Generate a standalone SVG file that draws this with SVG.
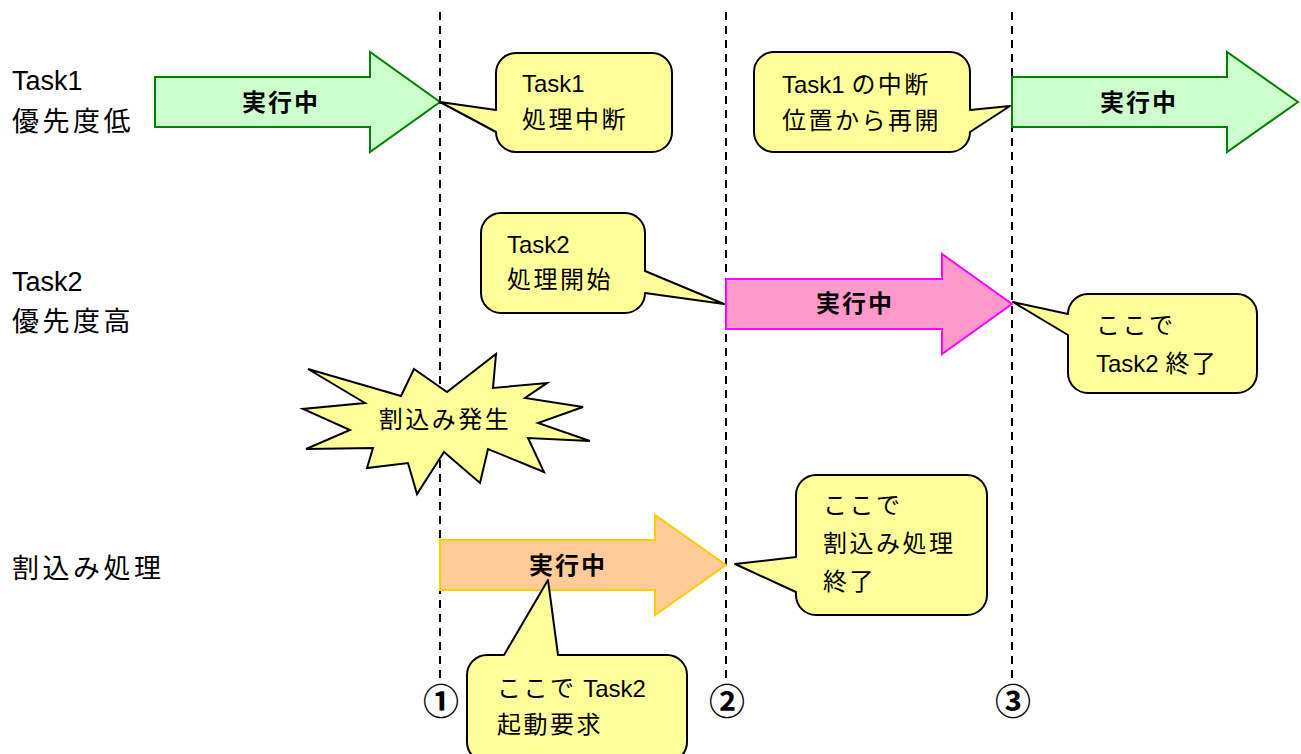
<svg xmlns="http://www.w3.org/2000/svg" width="1301" height="754" viewBox="0 0 1301 754">
<style>
text{font-family:"Liberation Sans","Noto Sans CJK JP",sans-serif;fill:#000}
.lbl{font-size:27px}
.lbl.cj{letter-spacing:3.5px}
.bt{font-size:24px}
.cj{letter-spacing:2.5px}
.run{font-size:24px;font-weight:bold;text-anchor:middle;letter-spacing:2px}
.num{font-size:36px;text-anchor:middle;font-family:"Noto Sans CJK JP",sans-serif;font-weight:bold}
.dash{stroke:#000;stroke-width:2;stroke-dasharray:8 6;fill:none}
.bub{fill:#FFFF99;stroke:#000;stroke-width:2;stroke-linejoin:round}
.green{fill:#CCFFCC;stroke:#008000;stroke-width:2}
.pink{fill:#FF99CC;stroke:#FF00FF;stroke-width:2}
.orange{fill:#FFCC99;stroke:#FFCC00;stroke-width:2}
.star{fill:#FFFF99;stroke:#000;stroke-width:2;stroke-linejoin:miter}
</style>
<rect width="1301" height="754" fill="#fff"/>
<g id="timelines">
<line class="dash" x1="440" y1="12" x2="440" y2="678"/>
<line class="dash" x1="726" y1="12" x2="726" y2="678"/>
<line class="dash" x1="1012" y1="12" x2="1012" y2="678"/>
</g>
<g id="lane-labels">
<text class="lbl" x="12" y="90">Task1</text>
<text class="lbl cj" x="12" y="131">優先度低</text>
<text class="lbl" x="12" y="291">Task2</text>
<text class="lbl cj" x="12" y="331">優先度高</text>
<text class="lbl cj" x="12" y="578">割込み処理</text>
</g>
<g id="task1-run1">
<path class="green" d="M155,77 H370 V52 L440,102 L370,152 V127 H155 Z"/>
<text class="run" x="281" y="111">実行中</text>
</g>
<g id="task1-run2">
<path class="green" d="M1012,77 H1227 V52 L1298,102 L1227,152 V127 H1012 Z"/>
<text class="run" x="1139" y="111">実行中</text>
</g>
<g id="task2-run">
<path class="pink" d="M726,279 H942 V254 L1012,304 L942,354 V329 H726 Z"/>
<text class="run" x="855" y="312">実行中</text>
</g>
<g id="irq-run">
<path class="orange" d="M440,540 H655 V515 L726,565 L655,615 V590 H440 Z"/>
<text class="run" x="568" y="574">実行中</text>
</g>
<g id="irq-burst">
<path class="star" d="M308,369 L401,396 L414,369 L447,392 L496,354 L493,388 L547,383 L525,398 L583,407 L538,423 L590,441 L528,438 L544,472 L488,449 L480,483 L444,452 L417,494 L408,463 L367,468 L373,448 L306,449 L350,430 L303,409 L365,403 Z"/>
<text class="bt cj" x="445" y="428" text-anchor="middle">割込み発生</text>
</g>
<g id="callout-task1-stop">
<path class="bub" d="M516,53 H652 A20,20 0 0 1 672,73 V132 A20,20 0 0 1 652,152 H516 A20,20 0 0 1 496,132 L440,102 L496,110 V73 A20,20 0 0 1 516,53 Z"/>
<text class="bt" x="522" y="92">Task1</text>
<text class="bt cj" x="522" y="128">処理中断</text>
</g>
<g id="callout-task1-resume">
<path class="bub" d="M774,52 H950 A20,20 0 0 1 970,72 V110 L1010,106 L970,132 A20,20 0 0 1 950,152 H774 A20,20 0 0 1 754,132 V72 A20,20 0 0 1 774,52 Z"/>
<text class="bt" x="782" y="93">Task1 <tspan class="cj">の中断</tspan></text>
<text class="bt cj" x="782" y="129">位置から再開</text>
</g>
<g id="callout-task2-start">
<path class="bub" d="M501,213 H625 A20,20 0 0 1 645,233 V271 L724,304 L645,293 A20,20 0 0 1 625,313 H501 A20,20 0 0 1 481,293 V233 A20,20 0 0 1 501,213 Z"/>
<text class="bt" x="507" y="253">Task2</text>
<text class="bt cj" x="507" y="288">処理開始</text>
</g>
<g id="callout-task2-end">
<path class="bub" d="M1088,294 H1237 A20,20 0 0 1 1257,314 V373 A20,20 0 0 1 1237,393 H1088 A20,20 0 0 1 1068,373 V335 L1013,302 L1068,314 A20,20 0 0 1 1088,294 Z"/>
<text class="bt cj" x="1096" y="334">ここで</text>
<text class="bt" x="1096" y="372">Task2 <tspan class="cj">終了</tspan></text>
</g>
<g id="callout-irq-end">
<path class="bub" d="M816,475 H967 A20,20 0 0 1 987,495 V595 A20,20 0 0 1 967,615 H816 A20,20 0 0 1 796,595 V592 L735,564 L796,557 V495 A20,20 0 0 1 816,475 Z"/>
<text class="bt cj" x="823" y="514">ここで</text>
<text class="bt cj" x="823" y="552">割込み処理</text>
<text class="bt cj" x="823" y="590">終了</text>
</g>
<g id="callout-task2-request">
<path class="bub" d="M487,655 H504 L548,580 L558,655 H667 A20,20 0 0 1 687,675 V742 A20,20 0 0 1 667,762 H487 A20,20 0 0 1 467,742 V675 A20,20 0 0 1 487,655 Z"/>
<text class="bt" x="497" y="697"><tspan class="cj">ここで</tspan> Task2</text>
<text class="bt cj" x="497" y="733">起動要求</text>
</g>
<g id="markers">
<text class="num" x="441" y="715">①</text>
<text class="num" x="727" y="715">②</text>
<text class="num" x="1013" y="715">③</text>
</g>
</svg>
